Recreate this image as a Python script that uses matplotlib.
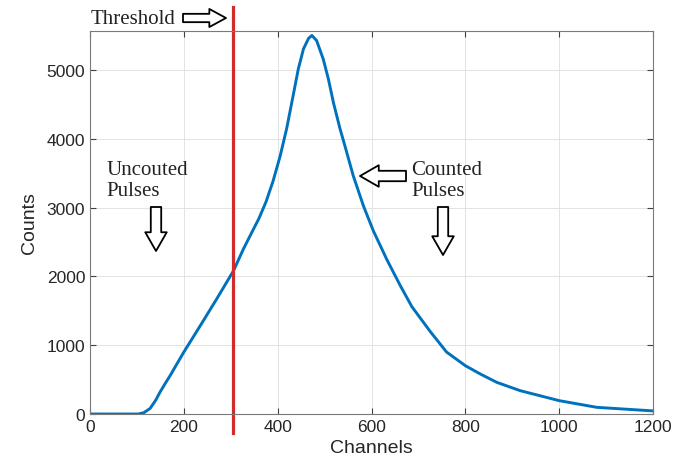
import matplotlib.pyplot as plt

# spectrum
channels = [0, 60, 103, 115, 128, 140, 149, 160, 171, 188, 200, 235, 270, 306, 327, 345,
            360, 375, 390, 405, 419, 433, 444, 455, 466, 473, 483, 497, 508, 519, 533,
            544, 561, 583, 604, 633, 661, 686, 725, 760, 800, 832, 867, 917, 1000, 1080, 1200]
counts = [0, 0, 0, 20, 80, 200, 315, 440, 560, 760, 900, 1283, 1671, 2083, 2398, 2640,
          2840, 3080, 3380, 3740, 4142, 4627, 5014, 5305, 5460, 5500, 5426, 5160, 4870, 4520, 4142,
          3880, 3464, 3020, 2660, 2240, 1870, 1560, 1200, 900, 702, 581, 460, 339, 194, 97, 45]
threshold = 305
xticks = [0, 200, 400, 600, 800, 1000, 1200]
yticks = [0, 1000, 2000, 3000, 4000, 5000]

fig = plt.figure(figsize=(6.78, 4.77), dpi=100)
ax = fig.add_axes([90 / 678, 62 / 477, 563 / 678, 383 / 477])

ax.plot(channels, counts, color="#0072BD", linewidth=2.1)
ax.axvline(threshold, ymin=-0.05, ymax=1.063, color="#D22B2B", linewidth=2.3, clip_on=False)

ax.set_xlim(0, 1200)
ax.set_ylim(0, 5565)
ax.set_xticks(xticks)
ax.set_yticks(yticks)
ax.grid(True, color="#e3e3e3", linewidth=0.7)
ax.set_axisbelow(True)
ax.tick_params(direction="in", length=4, top=True, right=True, color="#404040",
               labelsize=12.5, labelcolor="#262626")
for sp in ax.spines.values():
    sp.set_color("#7a7a7a")
    sp.set_linewidth(0.8)
for lab in ax.get_xticklabels() + ax.get_yticklabels():
    lab.set_family("Liberation Sans")
ax.set_xlabel("Channels", fontsize=14, family="Liberation Sans", color="#262626", labelpad=4)
ax.set_ylabel("Counts", fontsize=14, family="Liberation Sans", color="#262626", labelpad=6)

# annotations (serif text with hollow block arrows)
serif = dict(family="Liberation Serif", fontsize=15, color="#222222")
fig.text(91 / 678, 1 - 19 / 477, "Threshold", va="center", ha="left", **serif)
fig.text(106 / 678, 1 - 181 / 477, "Uncouted\nPulses", va="center", ha="left",
         linespacing=1.15, **serif)
fig.text(411 / 678, 1 - 181 / 477, "Counted\nPulses", va="center", ha="left",
         linespacing=1.15, **serif)

H = 477
small = dict(arrowstyle="simple,head_width=1.3,head_length=1.2,tail_width=0.6",
             fc="white", ec="black", lw=1.3, shrinkA=0, shrinkB=0, mutation_scale=10)
big = dict(arrowstyle="simple,head_width=1.55,head_length=1.35,tail_width=0.75",
           fc="white", ec="black", lw=1.3, shrinkA=0, shrinkB=0, mutation_scale=10)
arrows = [((183, 19), (226, 19), small), ((156, 208), (156, 252), big),
          ((406, 177), (360, 177), big), ((443, 208), (443, 256), big)]
for (x0, y0), (x1, y1), style in arrows:
    ax.annotate("", xy=(x1, H - y1), xytext=(x0, H - y0),
                xycoords="figure pixels", textcoords="figure pixels",
                arrowprops=style, annotation_clip=False)

fig.savefig("out.png", dpi=100)
